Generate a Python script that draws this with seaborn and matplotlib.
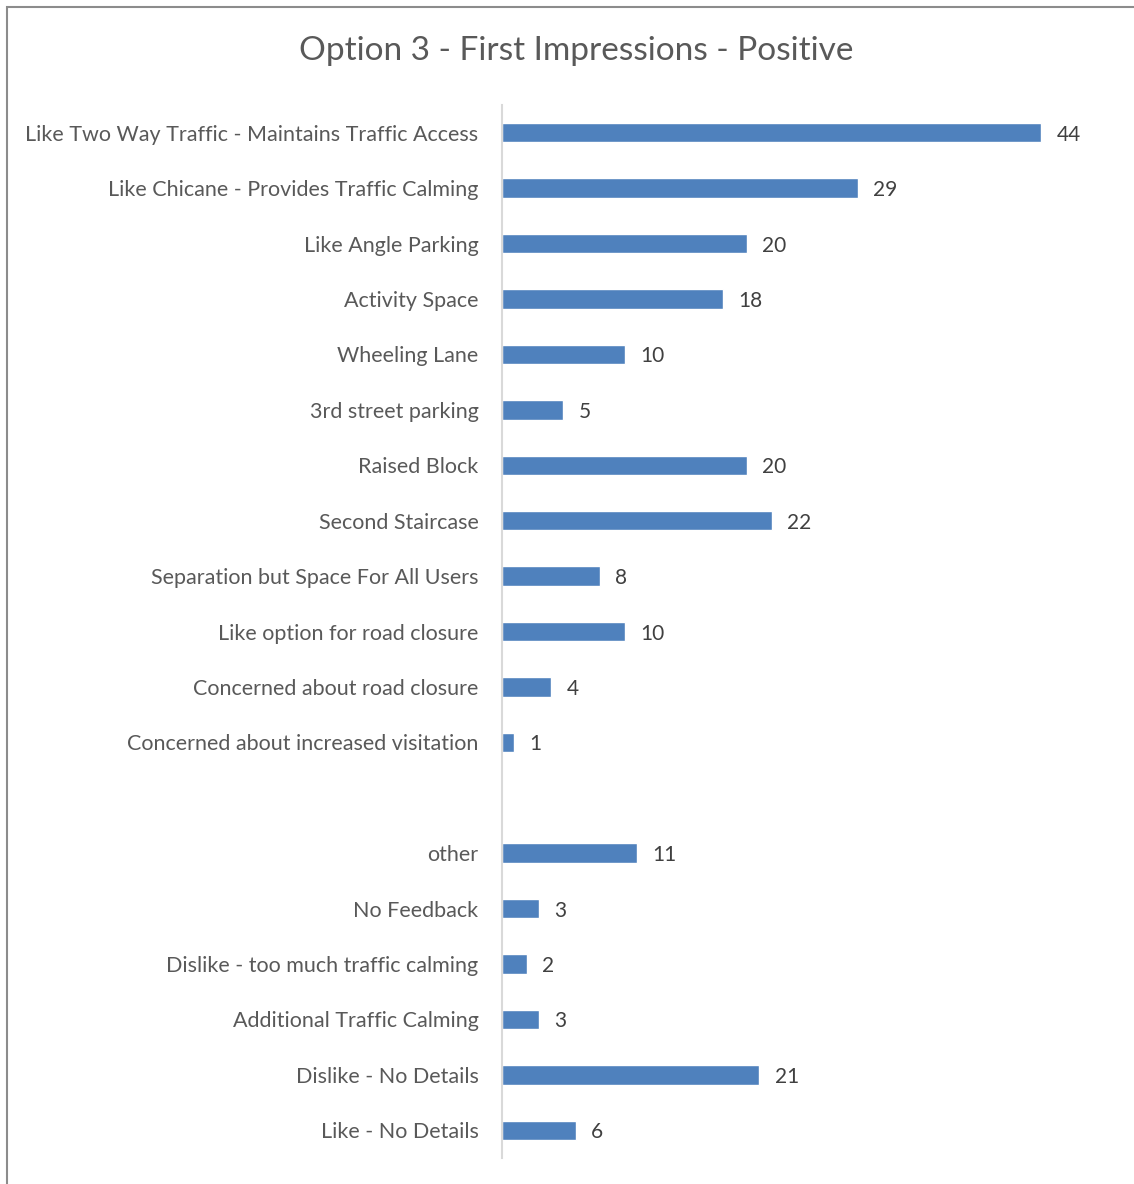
import matplotlib
matplotlib.use("Agg")
import matplotlib.pyplot as plt
import seaborn as sns
import pandas as pd
from matplotlib.patches import Rectangle

labels = [
    "Like Two Way Traffic - Maintains Traffic Access",
    "Like Chicane - Provides Traffic Calming",
    "Like Angle Parking",
    "Activity Space",
    "Wheeling Lane",
    "3rd street parking",
    "Raised Block",
    "Second Staircase",
    "Separation but Space For All Users",
    "Like option for road closure",
    "Concerned about road closure",
    "Concerned about increased visitation",
    "other",
    "No Feedback",
    "Dislike - too much traffic calming",
    "Additional Traffic Calming",
    "Dislike - No Details",
    "Like - No Details",
]
counts = [44, 29, 20, 18, 10, 5, 20, 22, 8, 10, 4, 1, 11, 3, 2, 3, 21, 6]

# blank slot between the two groups
order = labels[:12] + [" "] + labels[12:]

df = pd.DataFrame({"label": labels, "count": counts})

sns.set_style("white")
plt.rcParams["font.family"] = ["Lato", "DejaVu Sans"]

fig = plt.figure(figsize=(11.34, 11.84), dpi=100)
ax = fig.add_axes([502 / 1134, 1 - 1158 / 1184, 613 / 1134, 1053 / 1184])

sns.barplot(data=df, x="count", y="label", order=order, color="#4F81BD",
            saturation=1, width=0.35, ax=ax)

ax.set_xlim(0, 50)
ax.set_xlabel("")
ax.set_ylabel("")
ax.set_xticks([])
for s in ["top", "right", "bottom"]:
    ax.spines[s].set_visible(False)
ax.spines["left"].set_color("#D9D9D9")
ax.spines["left"].set_linewidth(1.5)
ax.tick_params(axis="y", length=0, pad=17, labelsize=15.5, labelcolor="#595959")

for c in ax.containers:
    for t in ax.bar_label(c, padding=11, fontsize=15, color="#404040"):
        t.set_va("center_baseline")

fig.text(0.508, 1 - 51 / 1184, "Option 3 - First Impressions - Positive",
         ha="center", va="center", fontsize=24, color="#595959")

fig.patches.append(Rectangle((7 / 1134, -0.1), 1.2, 1.1 - 7 / 1184,
                             transform=fig.transFigure, fill=False,
                             edgecolor="#8C8C8C", linewidth=1.5))

fig.savefig("out.png", dpi=100)
